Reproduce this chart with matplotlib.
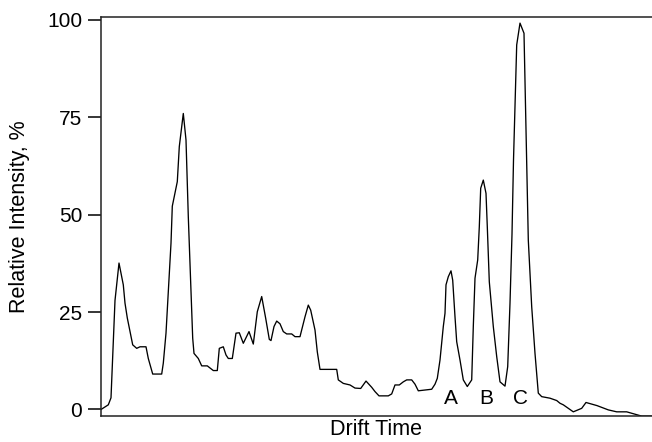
import matplotlib
matplotlib.use("Agg")
import matplotlib.pyplot as plt

plt.rcParams['font.family'] = ['Liberation Sans', 'DejaVu Sans']

# drift time (arbitrary units) and relative intensity (%)
drift = [0, 7.3, 10, 11.3, 14, 18, 22.3, 24, 26.3, 31.7, 35.7, 39, 45, 47.3, 51.7,
         60.7, 62.3, 65, 69, 70, 71.3, 76.3, 78.3, 82.3, 85, 87.3, 91.7, 93, 97.3,
         100.7, 106.3, 112.3, 116.3, 118.3, 122.3, 125, 127.3, 131.3, 135, 138.3,
         142.3, 148, 152.3, 156.3, 160.7, 164.7, 168.3, 170, 173, 175.7, 179, 182.3,
         185.7, 190.7, 194, 199, 204, 207.3, 209.7, 214, 216.3, 219, 235.7, 237.3,
         242.3, 249, 254, 259.7, 265, 270.7, 274, 278, 287.3, 290.7, 294, 298.3,
         302.3, 305.7, 310.7, 314, 317.3, 324, 330.7, 334, 336.3, 339, 342.3, 344,
         345, 347.3, 350, 351.7, 354, 355.7, 359, 362.3, 366.3, 370.7, 372.3, 374,
         376.7, 378.3, 379.7, 382.3, 385, 386.3, 388.3, 392.3, 395.7, 399, 404,
         406.7, 409, 411, 412.5, 415.7, 419, 423, 425.7, 427.3, 430.7, 434, 437.3,
         440.7, 449, 455.7, 459, 462.3, 472.3, 480.7, 485, 496, 507.3, 515.7, 525.7,
         534, 540.7, 551]
intensity = [0, 1.2, 3, 11, 28, 37.6, 32, 27.3, 23.5, 16.6, 15.7, 16.1, 16.1, 13.1, 9.1,
             9.1, 11.9, 19.6, 38.4, 42.7, 52.2, 58.5, 67.5, 76, 69.2, 49.5, 18.3, 14.4, 13.1,
             11.2, 11.2, 10, 10, 15.7, 16.1, 14, 13.1, 13.1, 19.6, 19.7,
             17, 20, 16.8, 25.1, 29, 23.4, 18, 17.7, 21.3, 22.7, 22, 20,
             19.4, 19.4, 18.7, 18.7, 23.8, 26.8, 25.5, 20.4, 14.8, 10.3, 10.3, 7.6,
             6.7, 6.3, 5.5, 5.4, 7.3, 5.7, 4.6, 3.5, 3.5, 4, 6.3, 6.3,
             7.1, 7.6, 7.6, 6.5, 4.8, 5, 5.2, 6.5, 8, 12.7, 21.3, 24.7,
             32, 34.1, 35.6, 33.2, 23.8, 17.4, 12.7, 7.6, 5.9, 7.6, 21.3, 33.7,
             38.4, 46.9, 56.8, 58.9, 55.5, 46.9, 32.8, 21.3, 13.6, 7.1, 6,
             11, 27.3, 45, 64, 93.6, 99.2, 96.6, 63.2, 43.5, 26.4, 14.4, 4.2,
             3.3, 2.9, 2.3, 1.6, 1.2, -0.6, 0.3, 1.8, 1.0, -0.1, -0.6, -0.6,
             -1.2, -1.7, -1.7]

peak_names = ['A', 'B', 'C']
peak_pos = [350, 385.3, 419.3]
peak_label_y = 2.9

yticks = [0, 25, 50, 75, 100]

fig = plt.figure(figsize=(6.52, 4.42), dpi=100)
ax = fig.add_axes([101 / 652, 1 - 416 / 442, 551 / 652, 399 / 442])

ax.plot(drift, intensity, color='black', lw=0.95)

for name, xp in zip(peak_names, peak_pos):
    ax.text(xp, peak_label_y, name, ha='center', va='center', fontsize=15)

ax.set_xlim(0, 551)
ax.set_ylim(-1.67, 100.77)
ax.set_yticks(yticks)
ax.set_xticks([])
ax.tick_params(axis='y', direction='out', length=9.5, width=1.1, pad=4, labelsize=15)

for side in ['left', 'top', 'bottom']:
    ax.spines[side].set_linewidth(1.1)
    ax.spines[side].set_color('#222222')
ax.spines['right'].set_visible(False)

ax.set_ylabel('Relative Intensity, %', fontsize=15.5, labelpad=12)
ax.set_xlabel('Drift Time', fontsize=15.5, labelpad=2)

fig.savefig('out.png', dpi=100)
